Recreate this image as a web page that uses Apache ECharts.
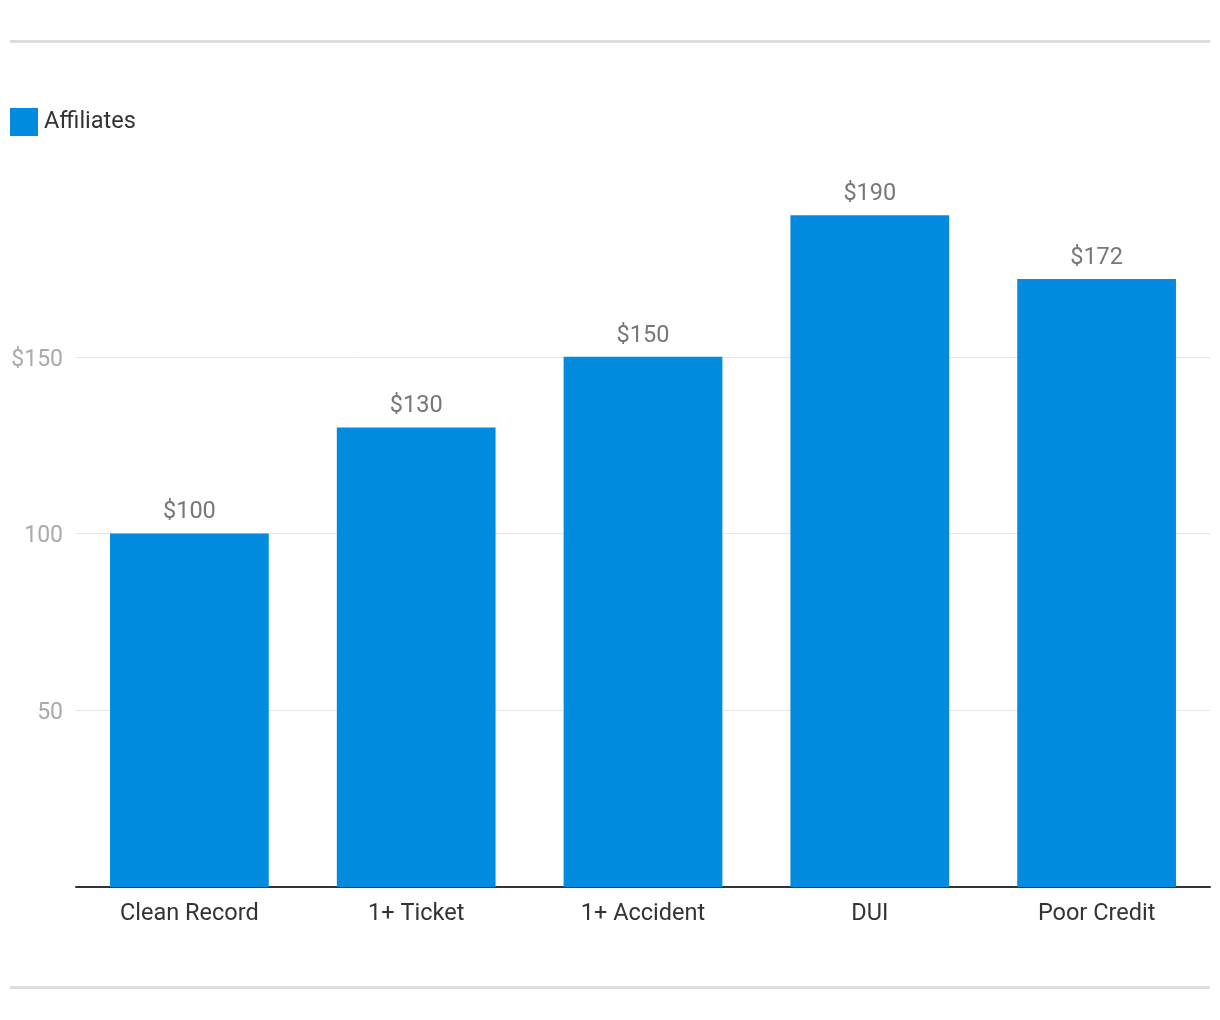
<!DOCTYPE html>
<html><head><meta charset="utf-8">
<script src="https://cdn.jsdelivr.net/npm/echarts@6/dist/echarts.min.js"></script>
<style>html,body{margin:0;padding:0;background:#fff}#c{width:1220px;height:1020px}</style>
</head><body><div id="c"></div>
<script>
const categories = ["Clean Record", "1+ Ticket", "1+ Accident", "DUI", "Poor Credit"];
const affiliates = [100, 130, 150, 190, 172];
const seriesName = "Affiliates";
const yTicks = [0, 50, 100, 150];

const chart = echarts.init(document.getElementById('c'), null, {renderer: 'canvas'});
chart.setOption({
  animation: false,
  textStyle: {fontFamily: 'Roboto'},
  graphic: [
    {type: 'rect', shape: {x: 10, y: 40, width: 1200, height: 3}, style: {fill: '#dddddd'}},
    {type: 'rect', shape: {x: 10, y: 986, width: 1200, height: 3}, style: {fill: '#dddddd'}}
  ],
  legend: {
    left: 10, top: 108, padding: 0, itemWidth: 28, itemHeight: 28, itemGap: 6,
    icon: 'rect',
    textStyle: {fontSize: 23.5, color: '#333', fontFamily: 'Roboto', padding: [0, 0, 0, 1]},
    data: [seriesName]
  },
  grid: {left: 76, right: 10, top: 180, bottom: 133, containLabel: false},
  xAxis: {
    type: 'category', data: categories,
    axisLine: {lineStyle: {color: '#333', width: 2}},
    axisTick: {show: false},
    axisLabel: {fontSize: 23.5, color: '#333', margin: 15, fontFamily: 'Roboto'}
  },
  yAxis: {
    type: 'value', min: 0, max: 200, interval: 50,
    axisLine: {show: false}, axisTick: {show: false},
    splitLine: {lineStyle: {color: '#e6e6e6', width: 1}, showMinLine: false, showMaxLine: false},
    axisLabel: {
      fontSize: 23, color: '#aaaaaa', margin: 13, fontFamily: 'Roboto',
      showMinLabel: false, showMaxLabel: false,
      rich: {a: {fontSize: 23, color: '#aaaaaa', fontFamily: 'Roboto', padding: [6, 0, 0, 0]}},
      formatter: v => {
        const i = yTicks.indexOf(v);
        if (i <= 0) return '';
        return '{a|' + (i === yTicks.length - 1 ? '$' + v : String(v)) + '}';
      }
    }
  },
  series: [{
    name: seriesName, type: 'bar', data: affiliates,
    barCategoryGap: '30%',
    itemStyle: {color: '#038be0'},
    label: {show: true, position: 'top', distance: 9, fontSize: 23.5, color: '#777', fontFamily: 'Roboto', formatter: p => '$' + p.value}
  }]
});
</script></body></html>
